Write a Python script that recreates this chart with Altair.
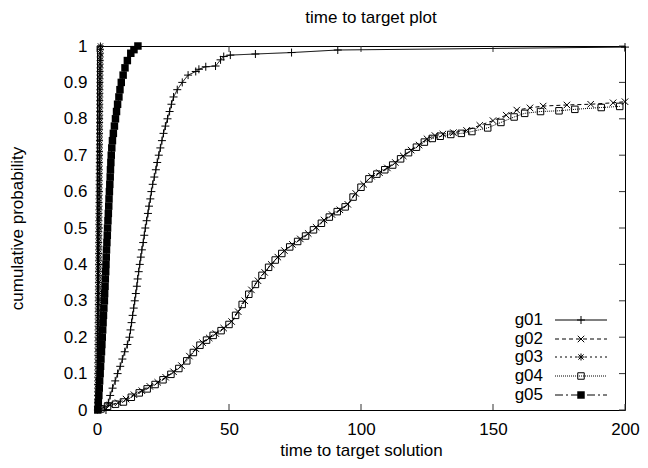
import altair as alt
import pandas as pd

FONT = "Liberation Sans"
FS = 17

series_names = ["g01", "g02", "g03", "g04", "g05"]
x_tick_values = [0, 50, 100, 150, 200]
y_tick_values = [0, 0.1, 0.2, 0.3, 0.4, 0.5, 0.6, 0.7, 0.8, 0.9, 1.0]

g01_time = [3.4, 4.3, 5.0, 5.9, 6.9, 7.8, 8.8, 9.6, 10.5, 11.5, 12.3, 12.7, 13.1, 13.5, 13.9,
            14.3, 14.7, 15.1, 15.4, 15.8, 16.2, 16.6, 17.0, 17.5, 17.9, 18.3, 18.8, 19.3, 19.7,
            20.2, 20.6, 21.1, 21.7, 22.3, 22.8, 23.4, 24.0, 24.6, 25.2, 25.9, 26.7, 27.5, 28.2,
            29.0, 30.4, 32.3, 34.5, 37.4, 38.6, 41.2, 44.9, 46.8, 48.0, 50.5, 60.0, 73.7, 91.2,
            200.0]
g01_prob = [0.00, 0.02, 0.04, 0.06, 0.08, 0.10, 0.12, 0.14, 0.16, 0.18, 0.20, 0.22, 0.24, 0.26,
            0.28, 0.30, 0.32, 0.34, 0.36, 0.38, 0.40, 0.42, 0.44, 0.46, 0.48, 0.50, 0.52, 0.54,
            0.56, 0.58, 0.60, 0.62, 0.64, 0.66, 0.68, 0.70, 0.72, 0.74, 0.76, 0.78, 0.80, 0.82,
            0.84, 0.86, 0.88, 0.90, 0.92, 0.93, 0.936, 0.943, 0.945, 0.962, 0.971, 0.975, 0.978,
            0.982, 0.989, 0.997]

g02_time = [0.8, 2.5, 5, 8, 11, 14, 17, 20, 23, 26, 29, 32, 35, 37.5, 40, 42.5, 45, 48, 51,
            53.5, 56, 58.5, 61, 63.5, 66, 68.5, 71, 74, 77, 80, 83, 86, 89, 92, 95, 98, 101,
            104, 107, 110, 113, 116, 119, 122, 125, 128, 131, 135, 140, 145, 150, 155, 159,
            164, 169, 178, 187, 195.5, 200]
g02_prob = [0.002, 0.008, 0.014, 0.02, 0.03, 0.042, 0.053, 0.065, 0.076, 0.09, 0.105, 0.122,
            0.148, 0.168, 0.185, 0.198, 0.21, 0.225, 0.243, 0.27, 0.3, 0.33, 0.355, 0.378,
            0.4, 0.42, 0.438, 0.455, 0.47, 0.485, 0.502, 0.522, 0.537, 0.55, 0.565, 0.595,
            0.62, 0.642, 0.652, 0.665, 0.68, 0.698, 0.714, 0.728, 0.745, 0.754, 0.758, 0.762,
            0.768, 0.782, 0.795, 0.81, 0.824, 0.83, 0.835, 0.838, 0.84, 0.844, 0.847]

g03_time = [0.15, 0.17, 0.2, 0.21, 0.22, 0.24, 0.25, 0.26, 0.27, 0.29, 0.3, 0.31, 0.32, 0.33,
            0.34, 0.35, 0.36, 0.37, 0.38, 0.39, 0.4, 0.41, 0.42, 0.43, 0.44, 0.45, 0.46, 0.47,
            0.48, 0.49, 0.5, 0.51, 0.52, 0.53, 0.54, 0.55, 0.56, 0.57, 0.58, 0.59, 0.6, 0.61,
            0.62, 0.63, 0.64, 0.65, 0.66, 0.67, 0.68, 0.69, 0.7, 0.71, 0.72, 0.73, 0.74, 0.75,
            0.76, 0.77, 0.78, 0.79, 0.8, 0.81, 0.82, 0.83, 0.84, 0.85, 0.86, 0.87, 0.88, 0.89,
            0.9, 0.91, 0.92, 0.93, 0.94, 0.95, 0.96, 0.97, 0.98, 0.99, 1.0, 1.01, 1.02, 1.03,
            1.04, 1.05, 1.06, 1.07, 1.08, 1.09, 1.1, 1.12, 1.13, 1.15, 1.16, 1.18, 1.2, 1.22,
            1.25, 1.28, 1.3]
g03_prob = [0.00, 0.01, 0.02, 0.03, 0.04, 0.05, 0.06, 0.07, 0.08, 0.09, 0.10, 0.11, 0.12, 0.13,
            0.14, 0.15, 0.16, 0.17, 0.18, 0.19, 0.20, 0.21, 0.22, 0.23, 0.24, 0.25, 0.26, 0.27,
            0.28, 0.29, 0.30, 0.31, 0.32, 0.33, 0.34, 0.35, 0.36, 0.37, 0.38, 0.39, 0.40, 0.41,
            0.42, 0.43, 0.44, 0.45, 0.46, 0.47, 0.48, 0.49, 0.50, 0.51, 0.52, 0.53, 0.54, 0.55,
            0.56, 0.57, 0.58, 0.59, 0.60, 0.61, 0.62, 0.63, 0.64, 0.65, 0.66, 0.67, 0.68, 0.69,
            0.70, 0.71, 0.72, 0.73, 0.74, 0.75, 0.76, 0.77, 0.78, 0.79, 0.80, 0.81, 0.82, 0.83,
            0.84, 0.85, 0.86, 0.87, 0.88, 0.89, 0.90, 0.91, 0.92, 0.93, 0.94, 0.95, 0.96, 0.97,
            0.98, 0.99, 1.00]

g04_time = [1.5, 4, 7, 10, 13, 16, 19, 22, 25, 28, 31, 34, 36.5, 39, 41.5, 44, 47, 50, 52.5,
            55, 57.5, 60, 62.5, 65, 67.5, 70, 73, 76, 79, 82, 85, 88, 91, 94, 97, 100, 103,
            106, 109, 112, 115, 118, 121, 124, 127, 130, 134, 138, 142, 148, 153, 158, 162,
            168, 175, 181, 191, 198]
g04_prob = [0.003, 0.01, 0.016, 0.022, 0.035, 0.047, 0.058, 0.07, 0.083, 0.098, 0.114, 0.135,
            0.158, 0.178, 0.192, 0.205, 0.218, 0.235, 0.26, 0.29, 0.318, 0.345, 0.37, 0.392,
            0.412, 0.43, 0.448, 0.463, 0.478, 0.495, 0.513, 0.53, 0.545, 0.558, 0.585, 0.612,
            0.635, 0.648, 0.66, 0.673, 0.69, 0.707, 0.722, 0.736, 0.746, 0.752, 0.757, 0.76,
            0.765, 0.775, 0.79, 0.805, 0.815, 0.82, 0.822, 0.826, 0.831, 0.834]

g05_time = [0.3, 0.5, 0.7, 0.85, 1.0, 1.2, 1.35, 1.5, 1.7, 1.85, 2.0, 2.15, 2.3, 2.45, 2.6,
            2.8, 2.9, 3.05, 3.15, 3.3, 3.4, 3.5, 3.6, 3.75, 3.9, 4.0, 4.15, 4.3, 4.45, 4.55,
            4.7, 4.85, 5.0, 5.1, 5.25, 5.4, 5.6, 5.85, 6.2, 6.6, 7.0, 7.4, 7.8, 8.3, 8.7, 9.2,
            9.9, 10.6, 11.5, 12.8, 14.0, 15.5]
g05_prob = [0.00, 0.02, 0.04, 0.06, 0.08, 0.10, 0.12, 0.14, 0.16, 0.18, 0.20, 0.22, 0.24, 0.26,
            0.28, 0.30, 0.32, 0.34, 0.36, 0.38, 0.40, 0.42, 0.44, 0.46, 0.48, 0.50, 0.52, 0.54,
            0.56, 0.58, 0.60, 0.62, 0.64, 0.66, 0.68, 0.70, 0.72, 0.74, 0.76, 0.78, 0.80, 0.82,
            0.84, 0.86, 0.88, 0.90, 0.92, 0.94, 0.96, 0.98, 0.99, 1.00]

series_data = {
    "g01": (g01_time, g01_prob),
    "g02": (g02_time, g02_prob),
    "g03": (g03_time, g03_prob),
    "g04": (g04_time, g04_prob),
    "g05": (g05_time, g05_prob),
}

PLUS = "M-1,0L1,0M0,-1L0,1"
CROSS = "M-1,-1L1,1M-1,1L1,-1"
STAR = "M-1,0L1,0M0,-1L0,1M-0.75,-0.75L0.75,0.75M-0.75,0.75L0.75,-0.75"

styles = {
    "g01": dict(dash=[1, 0], shape=PLUS, filled=False, size=64),
    "g02": dict(dash=[4, 3], shape=CROSS, filled=False, size=42),
    "g03": dict(dash=[2, 3], shape=STAR, filled=False, size=49),
    "g04": dict(dash=[1, 1], shape="square", filled=False, size=42),
    "g05": dict(dash=[8, 3, 2, 3], shape="square", filled=True, size=56),
}

W, H = 528, 364
legend_label_x, legend_line_x1, legend_line_x2, legend_marker_x = 446, 458, 510, 484
legend_rows_y = [274, 293, 311, 330, 349]

x_enc = alt.X("time:Q", scale=alt.Scale(domain=[0, 200], nice=False),
              axis=alt.Axis(values=x_tick_values, title="time to target solution",
                            titleY=40, titleBaseline="middle", labelPadding=11,
                            labelFlush=False))
y_enc = alt.Y("prob:Q", scale=alt.Scale(domain=[0, 1], nice=False),
              axis=alt.Axis(values=y_tick_values, format=".1~f", title="cumulative probability",
                            titleX=-80, titleY=H / 2, titleBaseline="middle",
                            titleAlign="center", labelPadding=10, labelFlush=False))

layers = []

# inward tick marks (gnuplot style, mirrored)
xt = pd.DataFrame({"time": x_tick_values})
yt = pd.DataFrame({"prob": y_tick_values})
tick_style = dict(color="#333333", strokeWidth=1)
layers.append(alt.Chart(xt).mark_rule(**tick_style).encode(x=x_enc, y=alt.value(H), y2=alt.value(H - 6)))
layers.append(alt.Chart(xt).mark_rule(**tick_style).encode(x=x_enc, y=alt.value(0), y2=alt.value(6)))
layers.append(alt.Chart(yt).mark_rule(**tick_style).encode(y=y_enc, x=alt.value(0), x2=alt.value(6)))
layers.append(alt.Chart(yt).mark_rule(**tick_style).encode(y=y_enc, x=alt.value(W), x2=alt.value(W - 6)))

for name in series_names:
    t, p = series_data[name]
    df = pd.DataFrame({"time": t, "prob": p})
    st = styles[name]
    layers.append(alt.Chart(df).mark_line(color="black", strokeWidth=1, strokeDash=st["dash"])
                  .encode(x=x_enc, y=y_enc))
    layers.append(alt.Chart(df).mark_point(shape=st["shape"], filled=st["filled"], size=st["size"],
                                           color="black", strokeWidth=1, opacity=1)
                  .encode(x=x_enc, y=y_enc))

# legend (gnuplot-like key inside the plot)
for name, ly in zip(series_names, legend_rows_y):
    st = styles[name]
    ld = pd.DataFrame({"label": [name]})
    layers.append(alt.Chart(ld).mark_text(align="right", baseline="middle", font=FONT,
                                          fontSize=FS, color="black")
                  .encode(x=alt.value(legend_label_x), y=alt.value(ly), text="label:N"))
    layers.append(alt.Chart(ld).mark_rule(color="black", strokeWidth=1, strokeDash=st["dash"])
                  .encode(x=alt.value(legend_line_x1), x2=alt.value(legend_line_x2), y=alt.value(ly)))
    layers.append(alt.Chart(ld).mark_point(shape=st["shape"], filled=st["filled"], size=st["size"],
                                           color="black", strokeWidth=1, opacity=1)
                  .encode(x=alt.value(legend_marker_x), y=alt.value(ly)))

# chart title as a text placed above the frame
title_df = pd.DataFrame({"label": ["time to target plot"]})
layers.append(alt.Chart(title_df).mark_text(align="center", baseline="middle", font=FONT,
                                            fontSize=FS, color="black")
              .encode(x=alt.value(274), y=alt.value(-28), text="label:N"))

chart = alt.layer(*layers).properties(
    width=W, height=H,
    padding={"left": 89, "top": 38, "right": 15, "bottom": 50},
    autosize=alt.AutoSizeParams(type="none"),
    background="white",
).configure_view(stroke="black", strokeWidth=1).configure_axis(
    domain=False, ticks=False, tickSize=0, grid=False,
    labelFont=FONT, labelFontSize=FS, labelColor="black",
    titleFont=FONT, titleFontSize=FS, titleFontWeight="normal", titleColor="black",
)

chart.save("out.html", embed_options={"renderer": "svg", "actions": False})
